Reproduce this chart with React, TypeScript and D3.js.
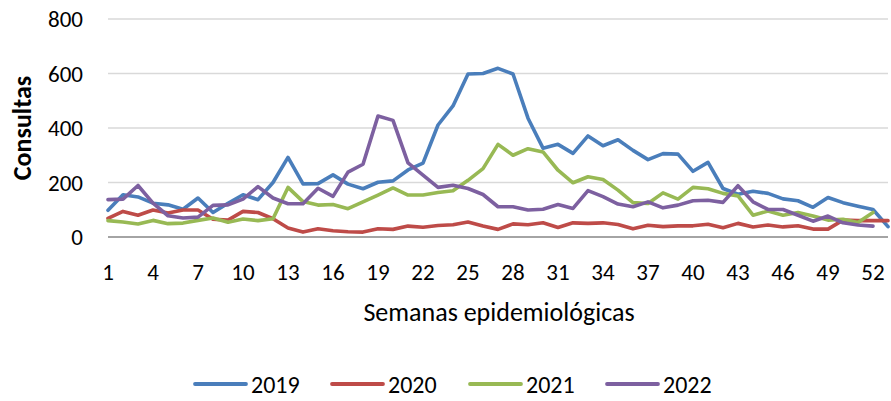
import React from "react";
import * as d3 from "d3";

const WEEKS = d3.range(1, 54);
const X_TICKS = [1, 4, 7, 10, 13, 16, 19, 22, 25, 28, 31, 34, 37, 40, 43, 46, 49, 52];
const Y_TICKS = [0, 200, 400, 600, 800];

const YEARS = ["2019", "2020", "2021", "2022"];
const COLORS = ["#4A7EBB", "#BE4B48", "#98B954", "#7D60A0"];

const V2019 = [98, 155, 147, 124, 118, 102, 143, 90, 124, 155, 137, 200, 292, 195, 196, 228, 194, 177, 201, 206, 246, 271, 411, 481, 598, 600, 619, 598, 436, 326, 340, 307, 371, 335, 357, 318, 284, 306, 304, 241, 274, 178, 157, 168, 160, 140, 133, 109, 145, 126, 113, 101, 38];
const V2020 = [68, 94, 80, 99, 88, 99, 99, 65, 62, 94, 90, 67, 33, 18, 30, 23, 19, 18, 30, 28, 40, 36, 42, 45, 55, 40, 28, 48, 45, 52, 35, 52, 50, 52, 46, 30, 43, 38, 41, 41, 47, 34, 50, 37, 44, 37, 41, 29, 29, 62, 60, 60, 60];
const V2021 = [60, 55, 48, 61, 49, 51, 61, 70, 54, 66, 60, 67, 182, 130, 117, 119, 104, 129, 154, 180, 154, 154, 163, 170, 208, 251, 340, 300, 324, 312, 245, 199, 221, 211, 172, 126, 123, 162, 139, 182, 177, 160, 151, 80, 95, 80, 90, 77, 62, 65, 53, 90];
const V2022 = [137, 139, 189, 124, 78, 70, 73, 116, 118, 139, 185, 143, 122, 122, 179, 149, 238, 267, 444, 428, 272, 227, 182, 190, 178, 156, 111, 111, 99, 102, 119, 105, 170, 148, 121, 111, 129, 107, 117, 133, 135, 127, 188, 129, 101, 101, 80, 58, 77, 52, 44, 40];

const SERIES = [V2019, V2020, V2021, V2022];

const FONT = "Carlito, Calibri, Lato, sans-serif";

const App = () => {
  const width = 891;
  const height = 401;
  const x = d3.scaleLinear().domain([1, 53]).range([108, 888]);
  const y = d3.scaleLinear().domain([0, 800]).range([237, 19]);
  const line = d3
    .line<number>()
    .x((_, i) => x(WEEKS[i]))
    .y((d) => y(d));

  const legendX = [194, 331, 469, 606];

  return (
    <svg
      width={width}
      height={height}
      style={{ position: "absolute", left: 0, top: 0, background: "#fff" }}
      fontFamily={FONT}
    >
      {Y_TICKS.filter((t) => t > 0).map((t) => (
        <line key={t} x1={108} x2={888} y1={y(t)} y2={y(t)} stroke="#D9D9D9" strokeWidth={1.5} />
      ))}
      <line x1={108} x2={888} y1={y(0)} y2={y(0)} stroke="#868686" strokeWidth={1.5} />
      {Y_TICKS.map((t) => (
        <text key={t} x={83} y={y(t)} dy="0.36em" textAnchor="end" fontSize={23} fill="#000">
          {t}
        </text>
      ))}
      {X_TICKS.map((t) => (
        <text key={t} x={x(t)} y={280} textAnchor="middle" fontSize={23} fill="#000">
          {t}
        </text>
      ))}
      <text
        transform="translate(31,128) rotate(-90)"
        textAnchor="middle"
        fontSize={26}
        fontWeight="bold"
        fill="#000"
      >
        Consultas
      </text>
      <text x={499} y={321} textAnchor="middle" fontSize={26} fill="#000">
        Semanas epidemiológicas
      </text>
      {SERIES.map((s, i) => (
        <path
          key={YEARS[i]}
          d={line(s) || ""}
          fill="none"
          stroke={COLORS[i]}
          strokeWidth={3.6}
          strokeLinejoin="round"
          strokeLinecap="round"
        />
      ))}
      {YEARS.map((yr, i) => (
        <g key={yr} transform={`translate(${legendX[i]},384)`}>
          <line x1={1} x2={52} y1={0} y2={0} stroke={COLORS[i]} strokeWidth={3.8} strokeLinecap="round" />
          <text x={57} y={0} dy="0.36em" fontSize={24} fill="#000">
            {yr}
          </text>
        </g>
      ))}
    </svg>
  );
};

export default App;
